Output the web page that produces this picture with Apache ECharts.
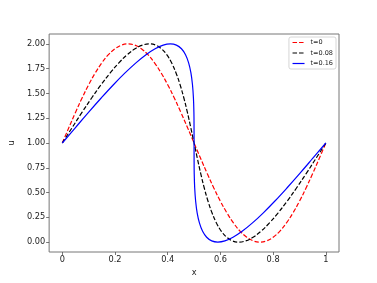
<!DOCTYPE html>
<html><head><meta charset="utf-8">
<script src="https://cdn.jsdelivr.net/npm/echarts@6/dist/echarts.min.js"></script>
<style>html,body{margin:0;padding:0;background:#fff}#c{width:377px;height:283px}</style>
</head><body><div id="c"></div>
<script>
// t=0
var x0 = [0,0.025,0.05,0.075,0.1,0.125,0.15,0.175,0.2,0.225,0.25,0.275,0.3,0.325,0.35,0.375,0.4,0.425,0.45,0.475,0.5,0.525,0.55,0.575,0.6,0.625,0.65,0.675,0.7,0.725,0.75,0.775,0.8,0.825,0.85,0.875,0.9,0.925,0.95,0.975,1];
var u0 = [1,1.156,1.309,1.454,1.588,1.707,1.809,1.891,1.951,1.988,2,1.988,1.951,1.891,1.809,1.707,1.588,1.454,1.309,1.156,1,0.844,0.691,0.546,0.412,0.293,0.191,0.109,0.049,0.012,0,0.012,0.049,0.109,0.191,0.293,0.412,0.546,0.691,0.844,1];
// t=0.08
var x1 = [0,0.0375,0.0747,0.1113,0.147,0.1816,0.2147,0.2463,0.2761,0.304,0.33,0.354,0.3761,0.3963,0.4147,0.4316,0.447,0.4613,0.4747,0.4875,0.5,0.5125,0.5253,0.5387,0.553,0.5684,0.5853,0.6037,0.6239,0.646,0.67,0.696,0.7239,0.7537,0.7853,0.8184,0.853,0.8887,0.9253,0.9625,1];
var u1 = [1,1.156,1.309,1.454,1.588,1.707,1.809,1.891,1.951,1.988,2,1.988,1.951,1.891,1.809,1.707,1.588,1.454,1.309,1.156,1,0.844,0.691,0.546,0.412,0.293,0.191,0.109,0.049,0.012,0,0.012,0.049,0.109,0.191,0.293,0.412,0.546,0.691,0.844,1];
// t=0.16
var x2 = [0,0.05,0.0994,0.1476,0.194,0.2381,0.2794,0.3176,0.3522,0.383,0.41,0.433,0.4522,0.4676,0.4794,0.4881,0.494,0.4976,0.4994,0.4999,0.5,0.5001,0.5006,0.5024,0.506,0.5119,0.5206,0.5324,0.5478,0.567,0.59,0.617,0.6478,0.6824,0.7206,0.7619,0.806,0.8524,0.9006,0.95,1];
var u2 = [1,1.156,1.309,1.454,1.588,1.707,1.809,1.891,1.951,1.988,2,1.988,1.951,1.891,1.809,1.707,1.588,1.454,1.309,1.156,1,0.844,0.691,0.546,0.412,0.293,0.191,0.109,0.049,0.012,0,0.012,0.049,0.109,0.191,0.293,0.412,0.546,0.691,0.844,1];
var names = ['t=0','t=0.08','t=0.16'];
var xTicks = [0,0.2,0.4,0.6,0.8,1];
var yTicks = [0,0.25,0.5,0.75,1,1.25,1.5,1.75,2];

function zip(a,b){var r=[];for(var i=0;i<a.length;i++)r.push([a[i],b[i]]);return r;}
var font = 'DejaVu Sans';
var chart = echarts.init(document.getElementById('c'));
chart.setOption({
  animation:false,
  grid:{left:47,right:38,top:34,bottom:31,show:true,borderColor:'#777',borderWidth:1,containLabel:false},
  xAxis:{type:'value',min:-0.05,max:1.05,
    name:'x',nameLocation:'middle',nameGap:17,nameTextStyle:{fontFamily:font,fontSize:8.2,color:'#222'},
    splitLine:{show:false},axisLine:{show:false,onZero:false},
    axisTick:{show:true,customValues:xTicks,length:3,lineStyle:{color:'#555',width:0.8}},
    axisLabel:{customValues:xTicks,fontFamily:font,fontSize:8.2,color:'#222',margin:4,
      formatter:function(v){return String(+v.toFixed(2));}}},
  yAxis:{type:'value',min:-0.1,max:2.1,
    name:'u',nameLocation:'middle',nameGap:27,nameRotate:90,nameTextStyle:{fontFamily:font,fontSize:8.2,color:'#222'},
    splitLine:{show:false},axisLine:{show:false,onZero:false},
    axisTick:{show:true,customValues:yTicks,length:3,lineStyle:{color:'#555',width:0.8}},
    axisLabel:{customValues:yTicks,fontFamily:font,fontSize:8.2,color:'#222',margin:4,
      formatter:function(v){return v.toFixed(2);}}},
  legend:{orient:'vertical',right:41,top:37,data:names,
    backgroundColor:'#fff',borderColor:'#ccc',borderWidth:0.8,borderRadius:2,padding:[2,3,2,3],
    itemWidth:12,itemHeight:6,itemGap:3.5,
    itemStyle:{opacity:0,borderWidth:0},
    lineStyle:{width:1.2},
    textStyle:{fontFamily:font,fontSize:6.5,color:'#222',padding:[0,0,0,1]}},
  series:[
    {name:names[0],type:'line',data:zip(x0,u0),showSymbol:false,symbol:'none',smooth:0.4,
      lineStyle:{color:'#ff0000',width:1.2,type:[4.5,2]},itemStyle:{color:'#ff0000'}},
    {name:names[1],type:'line',data:zip(x1,u1),showSymbol:false,symbol:'none',smooth:0.4,
      lineStyle:{color:'#000000',width:1.2,type:[4.5,2]},itemStyle:{color:'#000000'}},
    {name:names[2],type:'line',data:zip(x2,u2),showSymbol:false,symbol:'none',smooth:0.4,
      lineStyle:{color:'#0000ff',width:1.2},itemStyle:{color:'#0000ff'}}
  ]
});
</script></body></html>
